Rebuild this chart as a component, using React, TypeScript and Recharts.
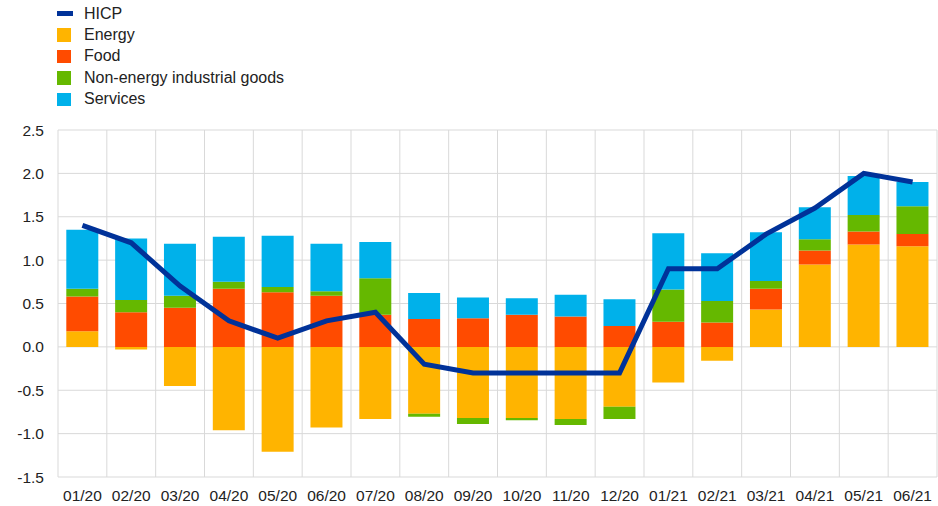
import { ComposedChart, Bar, Line, XAxis, YAxis, CartesianGrid, Legend } from 'recharts';

const months = ['01/20', '02/20', '03/20', '04/20', '05/20', '06/20', '07/20', '08/20', '09/20', '10/20', '11/20', '12/20', '01/21', '02/21', '03/21', '04/21', '05/21', '06/21'];
const hicp = [1.4, 1.2, 0.7, 0.3, 0.1, 0.3, 0.4, -0.2, -0.3, -0.3, -0.3, -0.3, 0.9, 0.9, 1.3, 1.6, 2.0, 1.9];
const energy = [0.18, -0.03, -0.45, -0.96, -1.21, -0.93, -0.83, -0.77, -0.82, -0.82, -0.83, -0.69, -0.41, -0.16, 0.43, 0.95, 1.18, 1.16];
const food = [0.4, 0.4, 0.45, 0.67, 0.63, 0.59, 0.37, 0.32, 0.33, 0.37, 0.35, 0.24, 0.29, 0.28, 0.24, 0.16, 0.15, 0.14];
const neig = [0.09, 0.14, 0.14, 0.08, 0.06, 0.05, 0.42, -0.035, -0.07, -0.025, -0.07, -0.14, 0.37, 0.25, 0.09, 0.13, 0.19, 0.32];
const services = [0.68, 0.71, 0.6, 0.52, 0.59, 0.55, 0.42, 0.3, 0.24, 0.19, 0.25, 0.31, 0.65, 0.55, 0.56, 0.37, 0.45, 0.28];
const yTicks = [-1.5, -1.0, -0.5, 0.0, 0.5, 1.0, 1.5, 2.0, 2.5];

const data = months.map((m, i) => ({
  month: m,
  hicp: hicp[i],
  energy: energy[i],
  food: food[i],
  neig: neig[i],
  services: services[i],
}));

const legendItems = [
  { name: 'HICP', color: '#003299', line: true },
  { name: 'Energy', color: '#FFB400' },
  { name: 'Food', color: '#FF4B00' },
  { name: 'Non-energy industrial goods', color: '#65B800' },
  { name: 'Services', color: '#00B1EA' },
];

const font = '"Liberation Sans", Arial, sans-serif';

function LegendBox() {
  return (
    <div style={{ boxSizing: 'border-box', height: 110, paddingLeft: 57, paddingTop: 3, fontFamily: font, fontSize: 16, color: '#222' }}>
      {legendItems.map(item => (
        <div key={item.name} style={{ display: 'flex', alignItems: 'center', height: 21.4 }}>
          <div style={{ width: 16, display: 'flex', justifyContent: 'flex-start', marginRight: 11 }}>
            <div style={{ width: item.line ? 16 : 13.5, height: item.line ? 5 : 13.5, background: item.color }} />
          </div>
          <span>{item.name}</span>
        </div>
      ))}
    </div>
  );
}

export default function App() {
  return (
    <div style={{ position: 'absolute', left: 0, top: 0, width: 938, height: 506, background: '#fff' }}>
      <ComposedChart
        width={938}
        height={506}
        data={data}
        stackOffset="sign"
        barCategoryGap="17%"
        margin={{ top: 20, right: 1, bottom: 0, left: 0 }}
      >
        <Legend verticalAlign="top" align="left" wrapperStyle={{ top: 0, left: 0 }} content={() => <LegendBox />} />
        <CartesianGrid
          stroke="#d9d9d9"
          strokeWidth={1}
          verticalCoordinatesGenerator={({ offset }: any) =>
            months.map((_, i) => offset.left + (i * offset.width) / months.length).concat(offset.left + offset.width)
          }
        />
        <XAxis
          dataKey="month"
          tickLine={false}
          axisLine={false}
          height={29}
          interval={0}
          tickMargin={7}
          tick={{ fontFamily: font, fontSize: 15.5, fill: '#222' }}
        />
        <YAxis
          domain={[-1.5, 2.5]}
          ticks={yTicks}
          width={58}
          tickLine={false}
          axisLine={false}
          tickMargin={8}
          tickFormatter={(v: number) => v.toFixed(1)}
          tick={{ fontFamily: font, fontSize: 15.5, fill: '#222' }}
        />
        <Bar dataKey="energy" stackId="a" fill="#FFB400" isAnimationActive={false} />
        <Bar dataKey="food" stackId="a" fill="#FF4B00" isAnimationActive={false} />
        <Bar dataKey="neig" stackId="a" fill="#65B800" isAnimationActive={false} />
        <Bar dataKey="services" stackId="a" fill="#00B1EA" isAnimationActive={false} />
        <Line dataKey="hicp" type="linear" stroke="#003299" strokeWidth={5} dot={false} isAnimationActive={false} />
      </ComposedChart>
    </div>
  );
}
